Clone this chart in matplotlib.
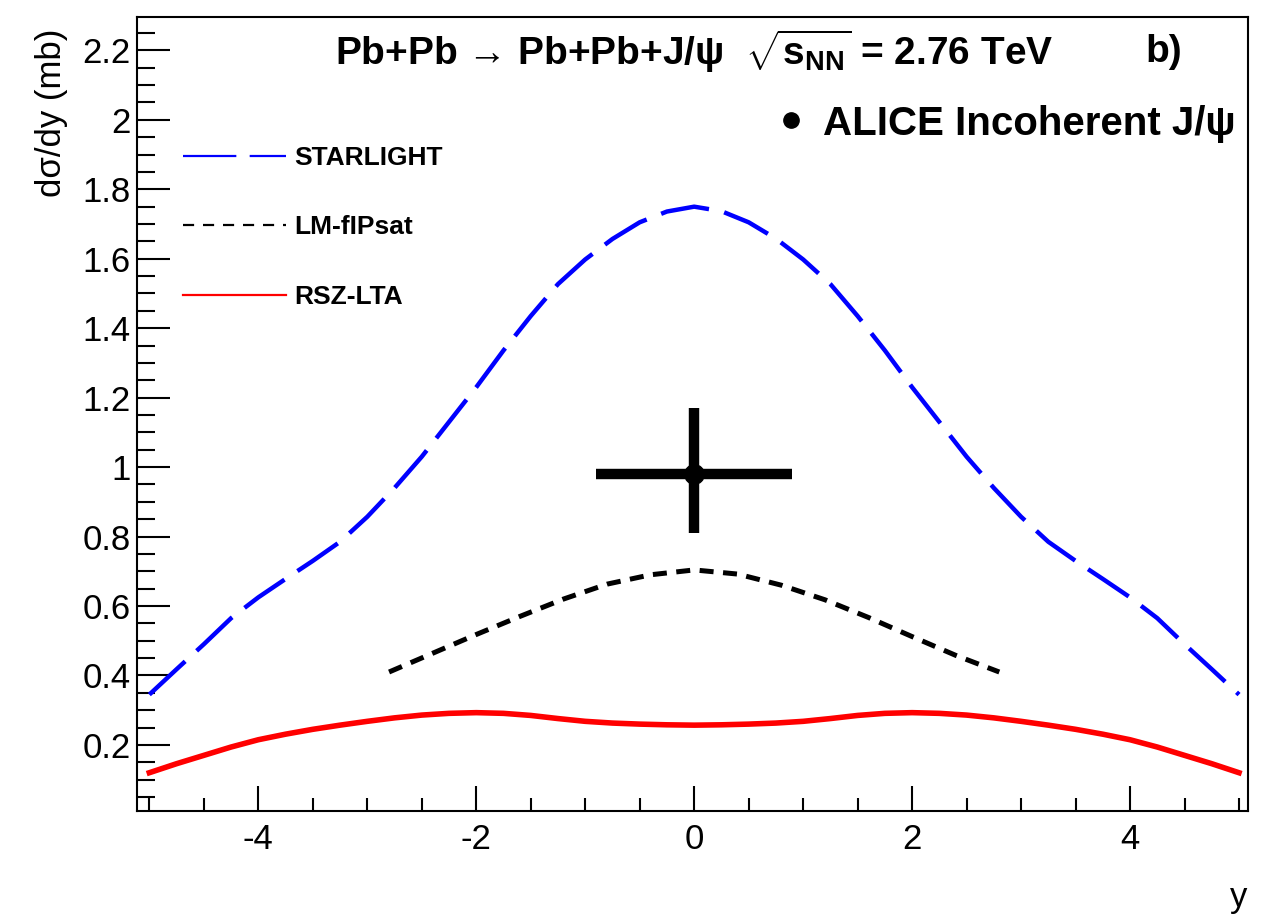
import matplotlib
matplotlib.use('Agg')
import matplotlib.pyplot as plt
from matplotlib.lines import Line2D
from matplotlib.ticker import FixedLocator, FixedFormatter

plt.rcParams['font.family'] = ['Liberation Sans', 'DejaVu Sans']
plt.rcParams['mathtext.fontset'] = 'custom'
plt.rcParams['mathtext.rm'] = 'Liberation Sans:bold'
plt.rcParams['mathtext.bf'] = 'Liberation Sans:bold'
plt.rcParams['mathtext.default'] = 'rm'
plt.rcParams['axes.unicode_minus'] = False

# STARLIGHT (blue long dash)
y_starlight = [-5.0, -4.75, -4.5, -4.25, -4.0, -3.75, -3.5, -3.25, -3.0, -2.75, -2.5,
               -2.25, -2.0, -1.75, -1.5, -1.25, -1.0, -0.75, -0.5, -0.25, 0.0,
               0.25, 0.5, 0.75, 1.0, 1.25, 1.5, 1.75, 2.0, 2.25, 2.5,
               2.75, 3.0, 3.25, 3.5, 3.75, 4.0, 4.25, 4.5, 4.75, 5.0]
ds_starlight = [0.345, 0.418, 0.49, 0.565, 0.625, 0.678, 0.73, 0.785, 0.857, 0.94, 1.03,
                1.13, 1.23, 1.336, 1.435, 1.527, 1.598, 1.657, 1.705, 1.736, 1.75,
                1.737, 1.705, 1.658, 1.598, 1.527, 1.435, 1.336, 1.23, 1.13, 1.03,
                0.94, 0.857, 0.785, 0.73, 0.678, 0.625, 0.565, 0.49, 0.418, 0.345]

# LM-fIPsat (black dotted)
y_lm = [-2.8, -2.4, -2.0, -1.6, -1.2, -0.8, -0.4, 0.0, 0.4, 0.8, 1.2, 1.6, 2.0, 2.4, 2.8]
ds_lm = [0.41, 0.464, 0.518, 0.57, 0.62, 0.663, 0.69, 0.704, 0.692, 0.66, 0.618, 0.567,
         0.512, 0.458, 0.41]

# RSZ-LTA (red solid)
y_rsz = [-5.0, -4.75, -4.5, -4.25, -4.0, -3.75, -3.5, -3.25, -3.0, -2.75, -2.5,
         -2.25, -2.0, -1.75, -1.5, -1.25, -1.0, -0.75, -0.5, -0.25, 0.0,
         0.25, 0.5, 0.75, 1.0, 1.25, 1.5, 1.75, 2.0, 2.25, 2.5,
         2.75, 3.0, 3.25, 3.5, 3.75, 4.0, 4.25, 4.5, 4.75, 5.0]
ds_rsz = [0.12, 0.146, 0.17, 0.194, 0.215, 0.231, 0.245, 0.257, 0.268, 0.278, 0.286,
          0.291, 0.293, 0.291, 0.285, 0.276, 0.268, 0.263, 0.26, 0.258, 0.257,
          0.258, 0.26, 0.263, 0.268, 0.276, 0.285, 0.291, 0.293, 0.291, 0.286,
          0.278, 0.268, 0.257, 0.245, 0.231, 0.215, 0.194, 0.17, 0.146, 0.12]

# ALICE incoherent J/psi
alice_y = [0.0]
alice_ds = [0.98]
alice_yerr = [0.9]
alice_err_lo = [0.17]
alice_err_hi = [0.19]

xticks_major = [-4, -2, 0, 2, 4]
xticks_minor = [-5, -4.5, -3.5, -3, -2.5, -1.5, -1, -0.5, 0.5, 1, 1.5, 2.5, 3, 3.5, 4.5, 5]
yticks_major = [0.2, 0.4, 0.6, 0.8, 1.0, 1.2, 1.4, 1.6, 1.8, 2.0, 2.2]
yticks_labels = ['0.2', '0.4', '0.6', '0.8', '1', '1.2', '1.4', '1.6', '1.8', '2', '2.2']
yticks_minor = [0.05 * i for i in range(1, 46)]

fig = plt.figure(figsize=(12.67, 9.18), dpi=100)
ax = fig.add_axes([0.1084, 0.1169, 0.8764, 0.8649])

ax.plot(y_starlight, ds_starlight, color='#0000ff', lw=3.2, dashes=(11, 3.5))
ax.plot(y_lm, ds_lm, color='black', lw=3.6, dashes=(2.8, 1.9))
ax.plot(y_rsz, ds_rsz, color='#ff0000', lw=4.0)
ax.errorbar(alice_y, alice_ds, xerr=alice_yerr, yerr=[alice_err_lo, alice_err_hi],
            fmt='o', color='black', ms=14, elinewidth=7.5, capsize=0)

ax.set_xlim(-5.11, 5.08)
ax.set_ylim(0.0107, 2.297)

ax.xaxis.set_major_locator(FixedLocator(xticks_major))
ax.xaxis.set_minor_locator(FixedLocator(xticks_minor))
ax.yaxis.set_major_locator(FixedLocator(yticks_major))
ax.yaxis.set_major_formatter(FixedFormatter(yticks_labels))
ax.yaxis.set_minor_locator(FixedLocator(yticks_minor))

ax.tick_params(axis='both', which='both', direction='in', top=False, right=False,
               width=1.5, labelsize=25)
ax.tick_params(axis='x', which='major', length=18, pad=9)
ax.tick_params(axis='x', which='minor', length=9.5)
ax.tick_params(axis='y', which='major', length=24, pad=5)
ax.tick_params(axis='y', which='minor', length=13)
for s in ax.spines.values():
    s.set_linewidth(1.5)

ax.set_xlabel('y', fontsize=25, loc='right', labelpad=18)
ax.set_ylabel('dσ/dy (mb)', fontsize=25, loc='top')
ax.yaxis.set_label_coords(-0.062, 0.985)

ax.text(0.178, 0.956, r'Pb+Pb → Pb+Pb+J/ψ  $\sqrt{s_{NN}}$ = 2.76 TeV',
        transform=ax.transAxes, fontsize=28, fontweight='bold', va='center', ha='left')
ax.text(0.9075, 0.956, 'b)', transform=ax.transAxes, fontsize=28, fontweight='bold',
        va='center', ha='left')

handles = [Line2D([], [], color='#0000ff', lw=1.6, dashes=(24, 6)),
           Line2D([], [], color='black', lw=1.6, dashes=(5, 4)),
           Line2D([], [], color='#ff0000', lw=1.6)]
leg = ax.legend(handles, ['STARLIGHT', 'LM-fIPsat', 'RSZ-LTA'], loc='upper left',
                bbox_to_anchor=(0.02, 0.867), frameon=False, handlelength=3.9,
                handletextpad=0.3, labelspacing=1.72,
                prop={'size': 19, 'weight': 'bold'})
ax.add_artist(leg)

dot = Line2D([], [], marker='o', ls='none', color='black', ms=11)
ax.legend([dot], ['ALICE Incoherent J/ψ'], loc='upper right', bbox_to_anchor=(1.022, 0.935),
          frameon=False, handlelength=0.6, handletextpad=0.5,
          prop={'size': 29, 'weight': 'bold'})

fig.savefig('out.png', dpi=100)
